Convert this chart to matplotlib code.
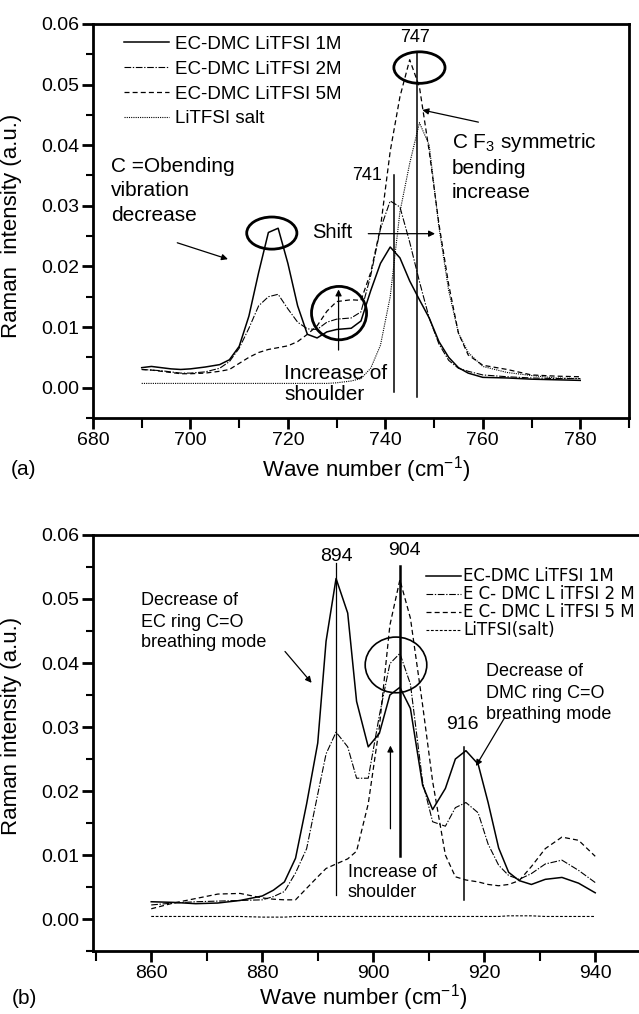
import matplotlib
matplotlib.use('Agg')
import matplotlib.pyplot as plt
from matplotlib.patches import Ellipse
from matplotlib.lines import Line2D
from matplotlib.ticker import MultipleLocator, FormatStrFormatter

plt.rcParams['font.family'] = ['Liberation Sans', 'DejaVu Sans']
plt.rcParams['mathtext.fontset'] = 'custom'
plt.rcParams['mathtext.rm'] = 'Liberation Sans'
plt.rcParams['mathtext.it'] = 'Liberation Sans:italic'
plt.rcParams['mathtext.bf'] = 'Liberation Sans:bold'

# (a) 680-790 cm-1 region
x_a = [690, 692, 694, 696, 698, 700, 703, 706, 708, 710, 712, 714, 716, 718, 720, 722, 724, 726, 728,
       730, 733, 735, 737, 739, 741, 743, 745, 747, 749, 751, 753, 755, 757, 760, 765, 770, 775, 780]
one_m_a = [0.0033, 0.0035, 0.0033, 0.0031, 0.0030, 0.0031, 0.0034, 0.0038, 0.0046, 0.0068, 0.0118, 0.0190,
           0.0256, 0.0263, 0.0205, 0.0135, 0.0088, 0.0082, 0.0092, 0.0096, 0.0098, 0.0110, 0.0160, 0.0205,
           0.0232, 0.0214, 0.0176, 0.0145, 0.0115, 0.0076, 0.0050, 0.0033, 0.0024, 0.0017, 0.0016, 0.0014,
           0.0013, 0.0012]
two_m_a = [0.0030, 0.0029, 0.0028, 0.0026, 0.0024, 0.0024, 0.0026, 0.0032, 0.0043, 0.0065, 0.0098, 0.0135,
           0.0150, 0.0154, 0.0130, 0.0108, 0.0097, 0.0096, 0.0108, 0.0113, 0.0115, 0.0125, 0.0185, 0.0262,
           0.0308, 0.0298, 0.0240, 0.0175, 0.0115, 0.0072, 0.0045, 0.0032, 0.0027, 0.0021, 0.0018, 0.0016,
           0.0015, 0.0015]
five_m_a = [0.0030, 0.0029, 0.0027, 0.0025, 0.0023, 0.0023, 0.0024, 0.0027, 0.0030, 0.0040, 0.0050, 0.0058,
            0.0063, 0.0066, 0.0069, 0.0076, 0.0088, 0.0102, 0.0126, 0.0142, 0.0145, 0.0144, 0.0190, 0.0264,
            0.0390, 0.0480, 0.0541, 0.0496, 0.0390, 0.0270, 0.0170, 0.0090, 0.0054, 0.0037, 0.0030, 0.0021,
            0.0019, 0.0018]
salt_a = [0.0007, 0.0007, 0.0007, 0.0007, 0.0007, 0.0007, 0.0007, 0.0007, 0.0007, 0.0007, 0.0007, 0.0007,
          0.0007, 0.0007, 0.0007, 0.0007, 0.0007, 0.0007, 0.0007, 0.0008, 0.0011, 0.0015, 0.0032, 0.0070,
          0.0150, 0.0290, 0.0370, 0.0437, 0.0400, 0.0265, 0.0160, 0.0090, 0.0058, 0.0035, 0.0025, 0.0020,
          0.0016, 0.0015]

# (b) 850-950 cm-1 region
x_b = [860, 864, 868, 872, 876, 880, 882, 884, 886, 888, 890, 891.5, 893.3, 895.4, 897, 899.1, 901.1, 903,
       904.8, 906.7, 908.9, 910.7, 913, 914.8, 916.7, 918.9, 920.7, 922.6, 924.4, 926.3, 928.5, 931, 934,
       937, 940]
one_m_b = [0.0027, 0.0026, 0.0024, 0.0025, 0.0029, 0.0036, 0.0045, 0.0058, 0.0095, 0.0180, 0.0275, 0.0434,
           0.0532, 0.0478, 0.0340, 0.0269, 0.0290, 0.0350, 0.0362, 0.0329, 0.0209, 0.0171, 0.0204, 0.0250,
           0.0263, 0.0242, 0.0182, 0.0111, 0.0073, 0.0060, 0.0054, 0.0062, 0.0065, 0.0056, 0.0041]
two_m_b = [0.0022, 0.0025, 0.0027, 0.0028, 0.0029, 0.0030, 0.0035, 0.0043, 0.0072, 0.0110, 0.0195, 0.0258,
           0.0292, 0.0269, 0.0220, 0.0220, 0.0318, 0.0399, 0.0415, 0.0367, 0.0214, 0.0152, 0.0145, 0.0174,
           0.0182, 0.0166, 0.0117, 0.0084, 0.0068, 0.0062, 0.0071, 0.0086, 0.0092, 0.0076, 0.0057]
five_m_b = [0.0016, 0.0025, 0.0032, 0.0039, 0.0040, 0.0033, 0.0031, 0.0030, 0.0030, 0.0048, 0.0066, 0.0079,
            0.0086, 0.0094, 0.0106, 0.0180, 0.0300, 0.0459, 0.0530, 0.0470, 0.0334, 0.0215, 0.0100, 0.0066,
            0.0061, 0.0058, 0.0054, 0.0052, 0.0054, 0.0060, 0.0082, 0.0110, 0.0128, 0.0123, 0.0098]
salt_b = [0.0004, 0.0004, 0.0004, 0.0004, 0.0004, 0.0003, 0.0003, 0.0003, 0.0004, 0.0004, 0.0004, 0.0004,
          0.0004, 0.0004, 0.0004, 0.0004, 0.0004, 0.0004, 0.0004, 0.0004, 0.0004, 0.0004, 0.0004, 0.0004,
          0.0004, 0.0004, 0.0004, 0.0004, 0.0005, 0.0005, 0.0005, 0.0004, 0.0004, 0.0004, 0.0004]

labels_a = ['EC-DMC LiTFSI 1M', 'EC-DMC LiTFSI 2M', 'EC-DMC LiTFSI 5M', 'LiTFSI salt']
labels_b = ['EC-DMC LiTFSI 1M', 'E C- DMC L iTFSI 2 M', 'E C- DMC L iTFSI 5 M', 'LiTFSI(salt)']

solid = dict(color='black', lw=1.1, linestyle='-')
dashdot = dict(color='black', lw=0.8, linestyle=(0, (6, 1.5, 1.2, 1.5)))
dashed = dict(color='black', lw=0.9, linestyle=(0, (4, 2.5)))
dotted_a = dict(color='black', lw=0.8, linestyle=(0, (1, 1)))
dotted_b = dict(color='black', lw=0.8, linestyle=(0, (2.5, 1.5)))


def style_axes(ax, xlim):
	ax.set_xlim(*xlim)
	ax.set_ylim(-0.005, 0.06)
	for s in ax.spines.values():
		s.set_linewidth(2)
	ax.xaxis.set_major_locator(MultipleLocator(20))
	ax.xaxis.set_minor_locator(MultipleLocator(10))
	ax.yaxis.set_major_locator(MultipleLocator(0.01))
	ax.yaxis.set_minor_locator(MultipleLocator(0.005))
	ax.yaxis.set_major_formatter(FormatStrFormatter('%.2f'))
	ax.tick_params(which='major', direction='out', length=8, width=2, labelsize=14, pad=2,
				   top=False, right=False)
	ax.tick_params(which='minor', direction='out', length=5, width=1.5, top=False, right=False)
	ax.tick_params(axis='x', which='minor', length=7)


def arrow(ax, tail, head):
	ax.annotate('', xy=head, xytext=tail,
				arrowprops=dict(arrowstyle='-|>', color='black', lw=0.9, mutation_scale=9,
								shrinkA=0, shrinkB=0))


def lines(ax, x, ys, texts, size, ha='left'):
	for y, t in zip(ys, texts):
		ax.text(x, y, t, fontsize=size, ha=ha, va='center')


fig = plt.figure(figsize=(6.39, 10.14), dpi=100)
ax1 = fig.add_axes([0.1455, 0.5878, 0.8388, 0.3886])
ax2 = fig.add_axes([0.1455, 0.0621, 0.8685, 0.4103])

# ---- panel (a)
style_axes(ax1, (680, 790))
ax1.plot(x_a, one_m_a, **solid)
ax1.plot(x_a, two_m_a, **dashdot)
ax1.plot(x_a, five_m_a, **dashed)
ax1.plot(x_a, salt_a, **dotted_a)
handles = [Line2D([], [], **solid), Line2D([], [], **dashdot), Line2D([], [], **dashed),
		   Line2D([], [], **dotted_a)]
ax1.legend(handles, labels_a, loc='upper left', bbox_to_anchor=(0.058, 0.97), fontsize=13.5,
		   frameon=False, handlelength=2.4, handletextpad=0.3, labelspacing=0.41,
		   borderpad=0, borderaxespad=0)

ax1.set_ylabel('Raman  intensity (a.u.)', fontsize=16)
ax1.yaxis.set_label_coords(-0.132, 0.487)
ax1.text(0.509, -0.132, 'Wave number (cm$^{-1}$)', transform=ax1.transAxes, fontsize=16,
		 ha='center', va='center')
ax1.text(-0.129, -0.132, '(a)', transform=ax1.transAxes, fontsize=15, ha='center', va='center')

ax1.add_patch(Ellipse((747, 0.0528), 10.5, 0.0052, fill=False, lw=2, color='black'))
ax1.add_patch(Ellipse((716.7, 0.0255), 10.3, 0.0053, fill=False, lw=2, color='black'))
ax1.add_patch(Ellipse((730.5, 0.0123), 11.3, 0.0088, fill=False, lw=2, color='black'))
ax1.plot([741.7, 741.7], [0.035, -0.0007], color='black', lw=1.1)
ax1.plot([746.6, 746.6], [0.0554, -0.0015], color='black', lw=1.1)
ax1.text(746.1, 0.0577, '747', fontsize=13, ha='center', va='center')
ax1.text(736.3, 0.035, '741', fontsize=13, ha='center', va='center')
arrow(ax1, (759.1, 0.0438), (747.6, 0.0458))
lines(ax1, 753.6, [0.0405, 0.0362, 0.0322], ['C F$_3$ symmetric', 'bending', 'increase'], 15)
lines(ax1, 683.7, [0.0364, 0.0325, 0.0284], ['C =Obending', 'vibration', 'decrease'], 15)
arrow(ax1, (697.3, 0.0239), (707.7, 0.0212))
ax1.text(729.2, 0.0256, 'Shift', fontsize=14.5, ha='center', va='center')
arrow(ax1, (736.5, 0.0254), (750.2, 0.0254))
arrow(ax1, (730.4, 0.0062), (730.4, 0.0162))
lines(ax1, 719.2, [0.0024, -0.0012], ['Increase of', 'shoulder'], 15)

# ---- panel (b)
style_axes(ax2, (849.5, 949.5))
ax2.plot(x_b, one_m_b, **solid)
ax2.plot(x_b, two_m_b, **dashdot)
ax2.plot(x_b, five_m_b, **dashed)
ax2.plot(x_b, salt_b, **dotted_b)
handles = [Line2D([], [], **solid), Line2D([], [], **dashdot), Line2D([], [], **dashed),
		   Line2D([], [], **dotted_b)]
ax2.legend(handles, labels_b, loc='upper left', bbox_to_anchor=(0.6, 0.922),
		   prop={'family': 'DejaVu Sans', 'size': 12},
		   frameon=False, handlelength=2.1, handletextpad=0.15, labelspacing=0.0,
		   borderpad=0, borderaxespad=0)

ax2.set_ylabel('Raman intensity (a.u.)', fontsize=16)
ax2.yaxis.set_label_coords(-0.128, 0.54)
ax2.text(0.486, -0.113, 'Wave number (cm$^{-1}$)', transform=ax2.transAxes, fontsize=16,
		 ha='center', va='center')
ax2.text(-0.124, -0.113, '(b)', transform=ax2.transAxes, fontsize=15, ha='center', va='center')

ax2.text(893.3, 0.0567, '894', fontsize=14, ha='center', va='center')
ax2.text(905.6, 0.0576, '904', fontsize=14, ha='center', va='center')
ax2.text(916.1, 0.0304, '916', fontsize=14, ha='center', va='center')
ax2.plot([893.3, 893.3], [0.0557, 0.0038], color='black', lw=0.9)
ax2.plot([904.8, 904.8], [0.0551, 0.0098], color='black', lw=1.8)
ax2.plot([916.4, 916.4], [0.0269, 0.0030], color='black', lw=1.1)
ax2.add_patch(Ellipse((904.1, 0.0397), 11.1, 0.0087, fill=False, lw=1.2, color='black'))
arrow(ax2, (903.1, 0.0141), (903.1, 0.0271))
lines(ax2, 895.4, [0.0073, 0.0041], ['Increase of', 'shoulder'], 13)
lines(ax2, 858.1, [0.0497, 0.0464, 0.0432], ['Decrease of', 'EC ring C=O', 'breathing mode'], 13)
arrow(ax2, (884.1, 0.0418), (888.9, 0.0369))
lines(ax2, 920.4, [0.0386, 0.0353, 0.0320], ['Decrease of', 'DMC ring C=O', 'breathing mode'], 13)
arrow(ax2, (923.7, 0.0315), (918.5, 0.0239))

fig.savefig('out.png', dpi=100)
